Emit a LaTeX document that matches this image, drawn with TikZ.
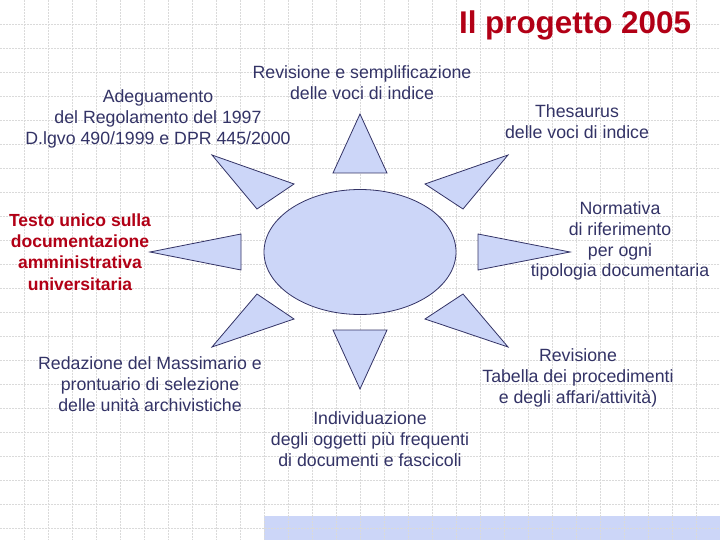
\documentclass[tikz,border=0pt]{standalone}
\usepackage{fontspec}
\setmainfont{Liberation Sans}

\definecolor{raggio}{RGB}{204,214,248}
\definecolor{bordo}{RGB}{51,51,102}
\definecolor{rosso}{RGB}{178,0,22}
\definecolor{griglia}{RGB}{218,218,218}

\begin{document}
\begin{tikzpicture}[x=1bp,y=-1bp,
  ray/.style={draw=bordo,fill=raggio,line width=0.8bp},
  voce/.style={text=bordo,align=center,inner sep=0pt,font=\fontsize{17.8}{21}\selectfont},
  vocerossa/.style={text=rosso,align=center,inner sep=0pt,font=\fontsize{17.6}{21.5}\selectfont\bfseries}]

\useasboundingbox (0,0) rectangle (720,540);
\fill[white] (0,0) rectangle (720,540);
\fill[raggio] (264,516) rectangle (720,540);

% grid
\foreach \i in {1,...,29}
  \draw[griglia,densely dotted,line width=0.5bp] (\i*24,0) -- (\i*24,540);
\foreach \j in {1,...,22}
  \draw[griglia,densely dotted,line width=0.5bp] (0,\j*24) -- (720,\j*24);

% sun
\draw[ray] (360,252) ellipse [x radius=96bp, y radius=62.5bp];

\draw[ray] (333,173) -- (387,173) -- (360,114) -- cycle;
\draw[ray] (333,330) -- (387,330) -- (360,389) -- cycle;
\draw[ray] (241,234) -- (241,270) -- (150,252) -- cycle;
\draw[ray] (478,234) -- (478,270) -- (570,252) -- cycle;
\draw[ray] (294,184) -- (257,209) -- (212,155) -- cycle;
\draw[ray] (425,184) -- (463,209) -- (508,155) -- cycle;
\draw[ray] (294,319) -- (257,294) -- (212,347) -- cycle;
\draw[ray] (425,319) -- (463,294) -- (508,347) -- cycle;

% labels
\node[text=rosso,inner sep=0pt,anchor=base,font=\fontsize{31.5}{31.5}\selectfont\bfseries] (titolo) at (575,34) {Il progetto 2005};

\node[voce] (revisione) at (362,83) {Revisione e semplificazione\\delle voci di indice};
\node[voce] (adeguamento) at (158,119) {Adeguamento\\del Regolamento del 1997\\D.lgvo 490/1999 e DPR 445/2000};
\node[voce] (thesaurus) at (577,122) {Thesaurus\\delle voci di indice};
\node[voce] (normativa) at (620,241) {Normativa\\di riferimento\\per ogni\\tipologia documentaria};
\node[vocerossa] (testounico) at (80,252) {Testo unico sulla\\documentazione\\amministrativa\\universitaria};
\node[voce] (massimario) at (150,384) {Redazione del Massimario e\\prontuario di selezione\\delle unità archivistiche};
\node[voce] (individuazione) at (370,439) {Individuazione\\degli oggetti più frequenti\\di documenti e fascicoli};
\node[voce] (tabella) at (578,378) {Revisione\\Tabella dei procedimenti\\e degli affari/attività)};

\end{tikzpicture}
\end{document}
